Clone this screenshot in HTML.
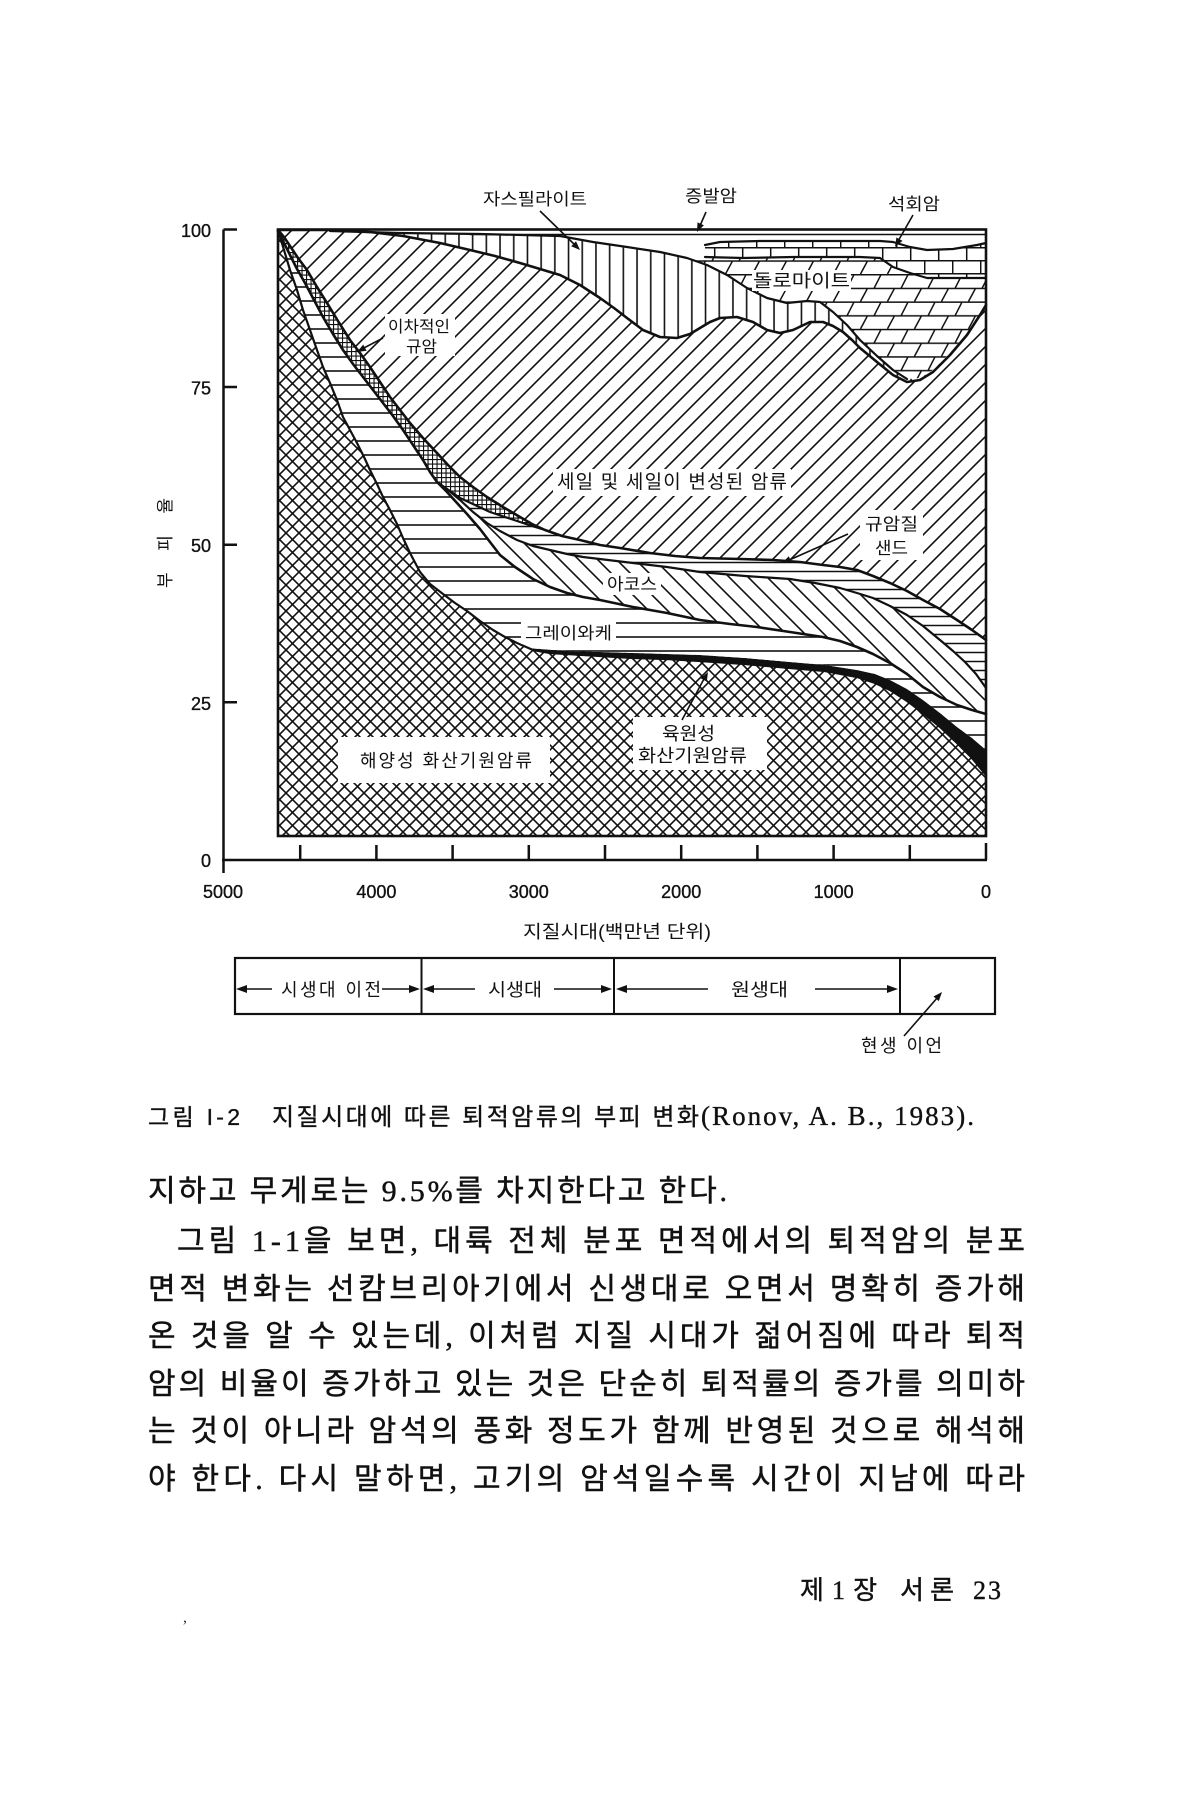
<!DOCTYPE html>
<html><head><meta charset="utf-8">
<style>html,body{margin:0;padding:0;background:#fff}svg{display:block}</style>
</head><body>
<svg width="1200" height="1800" viewBox="0 0 1200 1800" xmlns="http://www.w3.org/2000/svg">
<defs>
<pattern id="pX" width="13" height="13" patternUnits="userSpaceOnUse"><rect width="13" height="13" fill="#fff"/><path d="M-1,-1L14,14M14,-1L-1,14" stroke="#111" stroke-width="1.6"/></pattern>
<pattern id="pS" width="18" height="18" patternUnits="userSpaceOnUse"><rect width="18" height="18" fill="#fff"/><path d="M-2,20L20,-2M-2,2L2,-2M16,20L20,16" stroke="#111" stroke-width="1.6"/></pattern>
<pattern id="pA" width="19" height="19" patternUnits="userSpaceOnUse"><rect width="19" height="19" fill="#fff"/><path d="M-2,-2L21,21M17,-2L21,2M-2,17L2,21" stroke="#111" stroke-width="1.6"/></pattern>
<pattern id="pV" width="13.7" height="10" patternUnits="userSpaceOnUse"><rect width="13.7" height="10" fill="#fff"/><path d="M6.85,0V10" stroke="#111" stroke-width="1.6"/></pattern>
<pattern id="pH" width="10" height="14" patternUnits="userSpaceOnUse"><rect width="10" height="14" fill="#fff"/><path d="M0,7H10" stroke="#111" stroke-width="1.6"/></pattern>
<pattern id="pH9" width="10" height="9" patternUnits="userSpaceOnUse"><rect width="10" height="9" fill="#fff"/><path d="M0,4.5H10" stroke="#111" stroke-width="1.5"/></pattern>
<pattern id="pQ" width="4.5" height="4.5" patternUnits="userSpaceOnUse"><rect width="4.5" height="4.5" fill="#fff"/><path d="M0,0.5H4.5M0.5,0V4.5" stroke="#111" stroke-width="1.2"/></pattern>
<pattern id="pD" width="54" height="27.4" patternUnits="userSpaceOnUse"><rect width="54" height="27.4" fill="#fff"/><path d="M0,0.7H54M0,14.4H54M10,14.4L17,0.7M37,14.4L44,0.7M23.5,27.4L30.5,14.4M50.5,27.4L57.5,14.4M-3.5,27.4L3.5,14.4" stroke="#111" stroke-width="1.5"/></pattern>
<pattern id="pL" width="28" height="26" patternUnits="userSpaceOnUse"><rect width="28" height="26" fill="#fff"/><path d="M0,0.7H28M0,13.7H28M0.7,0V13.7M14.7,13.7V26" stroke="#111" stroke-width="1.5"/></pattern>
</defs>

<rect width="1200" height="1800" fill="#fff"/>

<!-- shale base -->
<rect x="278" y="229.5" width="708" height="606.5" fill="url(#pS)"/>
<!-- marine volcanogenic -->
<polygon fill="url(#pX)" points="278,230 284,250 290,270 297,290 303,310 310,330 317,350 323,367 330,383 337,400 343,417 350,430 357,443 364,457 370,470 377,484 383,497 390,510 397,524 403,538 410,553 420,572 430,584 443,594 455,603 467,611 480,621 493,630 505,637 517,643 533,650 550,653 567,654 600,656 633,658 667,659 700,661 745,664 790,668 825,671 857,677 875,683 890,690 907,701 923,713 940,727 957,743 972,758 986,775 986,836 278,836"/>
<!-- black continental volcanogenic -->
<polygon fill="#111" points="527,648 540,649 567,651 600,652 633,653 667,654 700,655 745,658 790,662 825,665 857,670 875,674 890,680 907,689 923,700 940,713 957,727 972,738 986,750 986,775 972,758 957,743 940,727 923,713 907,701 890,690 875,683 857,677 825,671 790,668 745,664 700,661 667,659 633,658 600,656 567,654 550,653 533,650 527,648"/>
<!-- graywacke -->
<polygon fill="url(#pH)" points="278,231 284,243 290,255 297,269 305,283 314,300 323,317 333,334 343,350 353,364 363,377 373,390 383,403 393,416 403,430 413,445 423,460 430,472 437,482 447,492 457,503 467,514 480,529 490,542 500,555 515,567 533,579 550,587 567,593 583,597 600,600 633,607 667,613 700,620 730,624 757,627 790,632 823,637 840,641 857,647 873,654 890,663 907,674 923,687 940,697 957,705 972,710 986,714 986,750 972,738 957,727 940,713 923,700 907,689 890,680 875,674 857,670 825,665 790,662 745,658 700,655 667,654 633,653 600,652 567,651 540,649 527,648 517,643 505,637 493,630 480,621 467,611 455,603 443,594 430,584 420,572 410,553 403,538 397,524 390,510 383,497 377,484 370,470 364,457 357,443 350,430 343,417 337,400 330,383 323,367 317,350 310,330 303,310 297,290 290,270 284,250 278,230"/>
<!-- arkose -->
<polygon fill="url(#pA)" points="437,482 447,489 460,500 473,512 487,523 500,531 517,540 533,546 550,550 567,554 583,557 608,560 633,563 667,567 700,572 745,576 790,579 815,583 840,588 857,593 873,598 890,606 907,615 923,626 940,640 953,651 965,662 976,674 986,688 986,714 972,710 957,705 940,697 923,687 907,674 890,663 873,654 857,647 840,641 823,637 790,632 757,627 730,624 700,620 667,613 633,607 600,600 583,597 567,593 550,587 533,579 515,567 500,555 490,542 480,529 467,514 457,503 447,492 437,482"/>
<!-- quartz sand -->
<polygon fill="url(#pH9)" points="437,482 450,491 460,498 475,505 490,512 505,517 520,522 532,526 545,530 562,536 580,540 600,545 620,548 650,553 675,556 700,558 740,559 773,560 800,562 823,565 840,567 857,570 873,576 890,583 907,591 923,600 940,609 957,620 972,630 986,640 986,688 976,674 965,662 953,651 940,640 923,626 907,615 890,606 873,598 857,593 840,588 815,583 790,579 745,576 700,572 667,567 633,563 608,560 583,557 567,554 550,550 533,546 517,540 500,531 487,523 473,512 460,500 447,489"/>
<!-- secondary quartzite -->
<polygon fill="url(#pQ)" points="278,230 284,237 290,246 298,258 307,270 317,287 327,303 338,321 350,340 360,353 370,367 380,382 390,397 400,410 410,423 423,438 437,453 448,465 460,477 473,487 487,497 503,507 520,517 532,524 545,530 532,526 520,522 505,517 490,512 475,505 460,498 450,491 437,482 430,472 423,460 413,445 403,430 393,416 383,403 373,390 363,377 353,364 343,350 333,334 323,317 314,300 305,283 297,269 290,255 284,243 278,231"/>
<!-- jaspilite -->
<polygon fill="url(#pV)" points="278,230 330,230 370,232 403,236 440,243 470,250 495,256 520,263 540,269 560,275 580,285 600,298 614,308 627,318 643,330 660,337 677,338 690,334 700,328 710,322 720,318 737,317 753,322 767,330 780,333 793,330 810,322 823,322 833,326 843,332 852,340 860,348 877,362 893,375 907,382 920,380 933,372 950,355 967,335 980,315 986,305 986,229.5 278,229.5"/>
<!-- white top band -->
<polygon fill="#fff" points="330,229.5 986,229.5 986,303 980,313 967,333 950,353 933,370 920,378 907,379 893,370 877,356 860,340 847,325 833,312 820,302 807,301 787,303 767,298 747,288 727,275 707,265 687,258 660,252 627,247 593,242 560,236 480,234 400,233 330,231"/>
<!-- dolomite -->
<polygon fill="url(#pD)" points="687,258 707,265 727,275 747,288 767,298 787,303 807,301 820,302 833,312 847,325 860,340 877,356 893,370 907,379 920,378 933,370 950,353 967,333 980,313 986,303 986,278 943,278 927,278 910,273 893,267 880,258 860,257 793,257 743,258 710,257"/>
<!-- limestone -->
<polygon fill="url(#pL)" points="705,257 743,258 793,257 860,257 880,258 893,267 910,273 927,278 943,278 986,278 986,243 977,245 953,249 927,250 910,247 893,242 880,241 760,241 720,242 705,245"/>

<!-- boundaries -->
<g fill="none" stroke="#111" stroke-width="2.2" stroke-linejoin="round" stroke-linecap="round">
<polyline points="278,230 284,250 290,270 297,290 303,310 310,330 317,350 323,367 330,383 337,400 343,417 350,430 357,443 364,457 370,470 377,484 383,497 390,510 397,524 403,538 410,553 420,572 430,584 443,594 455,603 467,611 480,621 493,630 505,637 517,643 533,650 550,653 567,654 600,656 633,658 667,659 700,661 745,664 790,668 825,671 857,677 875,683 890,690 907,701 923,713 940,727 957,743 972,758 986,775"/>
<polyline stroke-width="2.6" points="278,231 284,243 290,255 297,269 305,283 314,300 323,317 333,334 343,350 353,364 363,377 373,390 383,403 393,416 403,430 413,445 423,460 430,472 437,482 447,492 457,503 467,514 480,529 490,542 500,555 515,567 533,579 550,587 567,593 583,597 600,600 633,607 667,613 700,620 730,624 757,627 790,632 823,637 840,641 857,647 873,654 890,663 907,674 923,687 940,697 957,705 972,710 986,714"/>
<polyline points="437,482 447,489 460,500 473,512 487,523 500,531 517,540 533,546 550,550 567,554 583,557 608,560 633,563 667,567 700,572 745,576 790,579 815,583 840,588 857,593 873,598 890,606 907,615 923,626 940,640 953,651 965,662 976,674 986,688"/>
<polyline points="437,482 450,491 460,498 475,505 490,512 505,517 520,522 532,526 545,530"/>
<polyline stroke-width="2.6" points="278,230 284,237 290,246 298,258 307,270 317,287 327,303 338,321 350,340 360,353 370,367 380,382 390,397 400,410 410,423 423,438 437,453 448,465 460,477 473,487 487,497 503,507 520,517 532,524 545,530 562,536 580,540 600,545 620,548 650,553 675,556 700,558 740,559 773,560 800,562 823,565 840,567 857,570 873,576 890,583 907,591 923,600 940,609 957,620 972,630 986,640"/>
<polyline stroke-width="2.6" points="278,230 330,230 370,232 403,236 440,243 470,250 495,256 520,263 540,269 560,275 580,285 600,298 614,308 627,318 643,330 660,337 677,338 690,334 700,328 710,322 720,318 737,317 753,322 767,330 780,333 793,330 810,322 823,322 833,326 843,332 852,340 860,348 877,362 893,375 907,382 920,380 933,372 950,355 967,335 980,315 986,305"/>
<polyline points="330,231 400,233 480,234 560,236 593,242 627,247 660,252 687,258 707,265 727,275 747,288 767,298 787,303 807,301 820,302 833,312 847,325 860,340 877,356 893,370 907,379"/>
<polyline points="705,257 743,258 793,257 860,257 880,258 893,267 910,273 927,278 943,278 986,278"/>
<polyline points="705,245 720,242 760,241 880,241 893,242 910,247 927,250 953,249 977,245 986,243"/>
<path d="M470,234.5H986" stroke-width="1.6"/>
</g>
<rect x="278" y="229.5" width="708" height="606.5" fill="none" stroke="#111" stroke-width="2.6"/>

<!-- axes -->
<g stroke="#111" stroke-width="2.5" fill="none">
<path d="M223.5,229.5V873M222,860H987"/>
<path d="M223.5,229.5H237M223.5,387H237M223.5,544.7H237M223.5,702.3H237"/>
<path d="M300.2,845V860M376.4,845V860M452.6,845V860M528.8,845V860M605,845V860M681.2,845V860M757.4,845V860M833.6,845V860M909.8,845V860M986,843V860"/>
</g>
<g font-family="'Liberation Sans',Arial,sans-serif" font-size="18" fill="#111" stroke="#111" stroke-width="0.35">
<text x="211" y="237" text-anchor="end">100</text>
<text x="211" y="394.5" text-anchor="end">75</text>
<text x="211" y="552" text-anchor="end">50</text>
<text x="211" y="710" text-anchor="end">25</text>
<text x="211" y="867" text-anchor="end">0</text>
<text x="223" y="898" text-anchor="middle">5000</text>
<text x="376.4" y="898" text-anchor="middle">4000</text>
<text x="528.8" y="898" text-anchor="middle">3000</text>
<text x="681.2" y="898" text-anchor="middle">2000</text>
<text x="833.6" y="898" text-anchor="middle">1000</text>
<text x="986" y="898" text-anchor="middle">0</text>
</g>

<!-- label backgrounds -->
<g fill="#fff">
<rect x="752" y="270" width="99" height="21"/>
<rect x="385" y="314" width="70" height="42"/>
<rect x="553" y="469" width="238" height="27"/>
<rect x="860" y="510" width="63" height="50"/>
<rect x="603" y="573" width="58" height="22"/>
<rect x="521" y="621" width="95" height="23"/>
<rect x="338" y="737" width="212" height="46"/>
<rect x="633" y="717" width="134" height="53"/>
</g>

<g font-family="'Liberation Sans','Noto Sans CJK KR',sans-serif" fill="#111">
<text x="483" y="205" font-size="17" textLength="104" lengthAdjust="spacingAndGlyphs">자스필라이트</text>
<text x="685" y="202" font-size="17" textLength="52" lengthAdjust="spacingAndGlyphs">증발암</text>
<text x="888" y="210" font-size="17" textLength="52" lengthAdjust="spacingAndGlyphs">석회암</text>
<text x="753" y="287" font-size="18" textLength="97" lengthAdjust="spacingAndGlyphs">돌로마이트</text>
<text x="388" y="332" font-size="16" textLength="62" lengthAdjust="spacingAndGlyphs">이차적인</text>
<text x="406" y="352" font-size="16" textLength="31" lengthAdjust="spacingAndGlyphs">규암</text>
<text x="557" y="488" font-size="19" textLength="230" lengthAdjust="spacing">세일 및 세일이 변성된 암류</text>
<text x="865" y="530" font-size="17" textLength="53" lengthAdjust="spacingAndGlyphs">규암질</text>
<text x="875" y="554" font-size="17" textLength="33" lengthAdjust="spacingAndGlyphs">샌드</text>
<text x="607" y="590" font-size="17" textLength="50" lengthAdjust="spacingAndGlyphs">아코스</text>
<text x="525" y="639" font-size="17" textLength="87" lengthAdjust="spacingAndGlyphs">그레이와케</text>
<text x="360" y="767" font-size="18" textLength="172" lengthAdjust="spacing">해양성 화산기원암류</text>
<text x="662" y="740" font-size="18" textLength="53" lengthAdjust="spacingAndGlyphs">육원성</text>
<text x="638" y="762" font-size="18" textLength="109" lengthAdjust="spacingAndGlyphs">화산기원암류</text>
<text x="523" y="938" font-size="18" textLength="188" lengthAdjust="spacingAndGlyphs">지질시대(백만년 단위)</text>
<text transform="translate(171,543) rotate(-90)" text-anchor="middle" font-size="17" textLength="90" lengthAdjust="spacing">부 피 율</text>
</g>

<!-- arrows -->
<g stroke="#111" stroke-width="1.6" fill="none">
<path d="M540,211L576,246M706,212L699,228M913,215L897,243M383,338L362,349M848,534L787,561M682,720L705,677M904,1036L938,997"/>
</g>
<g fill="#111">
<polygon points="580,250 571.2,246.2 576.0,241.2"/>
<polygon points="697,232 697.5,222.4 703.9,225.2"/>
<polygon points="895,247 896.4,237.5 902.5,240.9"/>
<polygon points="357,352 363.2,344.6 366.6,350.8"/>
<polygon points="782,563 788.8,556.2 791.6,562.6"/>
<polygon points="708,672 706.8,681.6 700.6,678.2"/>
<polygon points="942,992 938.8,1001.1 933.5,996.5"/>
</g>

<!-- timeline -->
<g stroke="#111" fill="none">
<rect x="235" y="958" width="760" height="56" stroke-width="2.2"/>
<path d="M421.5,958V1014M614,958V1014M900,958V1014" stroke-width="2"/>
<path d="M240,989H272M382,989H416M428,989H475M554,989H608M620,989H708M815,989H894" stroke-width="1.6"/>
</g>
<g fill="#111">
<polygon points="236,989 247,985 247,993"/>
<polygon points="420,989 409,985 409,993"/>
<polygon points="423,989 434,985 434,993"/>
<polygon points="612,989 601,985 601,993"/>
<polygon points="616,989 627,985 627,993"/>
<polygon points="898,989 887,985 887,993"/>
</g>
<g font-family="'Liberation Sans','Noto Sans CJK KR',sans-serif" font-size="18" fill="#111">
<text x="281" y="996" textLength="100" lengthAdjust="spacing">시생대 이전</text>
<text x="488" y="996" textLength="54" lengthAdjust="spacingAndGlyphs">시생대</text>
<text x="731" y="996" textLength="57" lengthAdjust="spacingAndGlyphs">원생대</text>
<text x="861" y="1052" textLength="81" lengthAdjust="spacing">현생 이언</text>
</g>

<!-- caption -->
<g fill="#111" stroke="#111" stroke-width="0.35">
<text x="148" y="1125" font-size="23" font-family="'Liberation Sans','Noto Sans CJK KR',sans-serif" textLength="92" lengthAdjust="spacing">그림 I-2</text>
<text x="272" y="1125" font-size="24" font-family="'Liberation Sans','Noto Sans CJK KR',sans-serif" textLength="427" lengthAdjust="spacing">지질시대에 따른 퇴적암류의 부피 변화</text>
<text x="701" y="1125" font-size="27" font-family="'Liberation Serif',serif" textLength="273" lengthAdjust="spacing">(Ronov, A. B., 1983).</text>
</g>

<!-- body -->
<g font-family="'Liberation Serif','Noto Sans CJK KR',serif" font-size="30" fill="#111" stroke="#111" stroke-width="0.45">
<text x="148" y="1201" textLength="579" lengthAdjust="spacing">지하고 무게로는 9.5%를 차지한다고 한다.</text>
<text x="177" y="1251" textLength="848" lengthAdjust="spacing">그림 1-1을 보면, 대륙 전체 분포 면적에서의 퇴적암의 분포</text>
<text x="148" y="1299" textLength="877" lengthAdjust="spacing">면적 변화는 선캄브리아기에서 신생대로 오면서 명확히 증가해</text>
<text x="148" y="1346" textLength="877" lengthAdjust="spacing">온 것을 알 수 있는데, 이처럼 지질 시대가 젊어짐에 따라 퇴적</text>
<text x="148" y="1394" textLength="877" lengthAdjust="spacing">암의 비율이 증가하고 있는 것은 단순히 퇴적률의 증가를 의미하</text>
<text x="148" y="1441" textLength="877" lengthAdjust="spacing">는 것이 아니라 암석의 풍화 정도가 함께 반영된 것으로 해석해</text>
<text x="148" y="1489" textLength="877" lengthAdjust="spacing">야 한다. 다시 말하면, 고기의 암석일수록 시간이 지남에 따라</text>
</g>

<!-- footer -->
<g font-family="'Liberation Serif','Noto Sans CJK KR',serif" font-size="26" fill="#111" stroke="#111" stroke-width="0.4">
<text x="800" y="1599" textLength="77" lengthAdjust="spacing">제 1 장</text>
<text x="900" y="1599" textLength="54" lengthAdjust="spacing">서론</text>
<text x="973" y="1599" textLength="28" lengthAdjust="spacing">23</text>
</g>
<text x="183" y="1622" font-family="'Liberation Serif',serif" font-size="16" fill="#333">,</text>
</svg>
</body></html>
